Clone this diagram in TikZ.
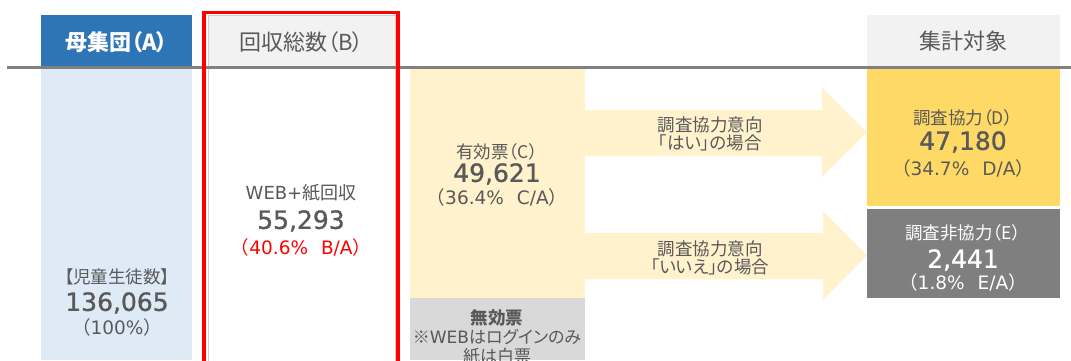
\documentclass[tikz,border=0pt]{standalone}
\usepackage{fontspec}
\setmainfont{DejaVu Sans}
\newfontfamily\jp[RawFeature=+palt]{Noto Sans CJK JP}
\newfontfamily\jpf{Noto Sans CJK JP}
\newfontfamily\num[FakeBold=1]{DejaVu Sans}
\newcommand{\J}[1]{{\jpf #1}}
\definecolor{txt}{HTML}{595959}
\definecolor{hblue}{HTML}{2E75B6}
\definecolor{lblue}{HTML}{DEEBF7}
\definecolor{hgray}{HTML}{F2F2F2}
\definecolor{lyel}{HTML}{FFF2CC}
\definecolor{dyel}{HTML}{FFD966}
\definecolor{dgray}{HTML}{7F7F7F}
\definecolor{mgray}{HTML}{D9D9D9}
\definecolor{lineg}{HTML}{808080}
\definecolor{bordg}{HTML}{D0D0D0}
\begin{document}
\begin{tikzpicture}[x=1pt,y=-1pt,
  box/.style={draw=none,inner sep=0pt,outer sep=0pt,anchor=north west},
  lbl/.style={inner sep=0pt,outer sep=0pt,text=txt,font=\jp\fontsize{17.5}{18}\selectfont},
  big/.style={inner sep=0pt,outer sep=0pt,text=txt,font=\num\fontsize{25}{26}\selectfont},
  pct/.style={inner sep=0pt,outer sep=0pt,text=txt,font=\fontsize{18.5}{19}\selectfont},
  head/.style={inner sep=0pt,outer sep=0pt,text=txt,font=\jp\fontsize{22}{23}\selectfont},
  arr/.style={fill=lyel,draw=none}]
\useasboundingbox (0,0) rectangle (1071,360);
% columns
\node[box,fill=hblue,minimum width=151pt,minimum height=51pt] (hA) at (41,15) {};
\node[box,fill=lblue,minimum width=151pt,minimum height=294pt] (colA) at (41,66) {};
\node[box,fill=hgray,draw=bordg,minimum width=187pt,minimum height=51pt] (hB) at (208,15) {};
\node[box,fill=white,draw=bordg,minimum width=187pt,minimum height=300pt] (colB) at (208,66) {};
\node[box,fill=lyel,minimum width=175pt,minimum height=232pt] (colC) at (410,66) {};
\node[box,fill=mgray,minimum width=175pt,minimum height=62pt] (inv) at (410,298) {};
\node[box,fill=hgray,minimum width=193pt,minimum height=51pt] (hT) at (867,15) {};
\node[box,fill=dyel,minimum width=193pt,minimum height=140pt] (D) at (867,66) {};
\node[box,fill=dgray,minimum width=193pt,minimum height=89pt] (E) at (867,209) {};
% arrows
\fill[arr] (colC.east |- 0,110) -- (822,110) -- (822,88) -- (D.west |- 0,132.5) -- (822,177) -- (822,156) -- (colC.east |- 0,156) -- cycle;
\fill[arr] (colC.east |- 0,233) -- (823,233) -- (823,211) -- (E.west |- 0,255.5) -- (823,300) -- (823,279) -- (colC.east |- 0,279) -- cycle;
% rule line
\draw[lineg,line width=3pt] (7,67) -- (1071,67);
% red frame
\draw[red,line width=3.5pt] (204,365) -- (204,12.5) -- (398,12.5) -- (398,365);
% header texts
\node[head,text=white,font=\jp\bfseries\fontsize{22}{23}\selectfont] (tA) at (116.5,42) {母集団（A）};
\node[head] (tB) at (301.5,42) {回収総数（B）};
\node[head] (tT) at (963.5,41) {集計対象};
% A
\node[lbl] (a1) at (117,277) {【児童生徒数】};
\node[big] (a2) at (117,303) {136,065};
\node[pct] (a3) at (117,327) {\J{（}100\%\J{）}};
% B
\node[lbl,font=\jp\fontsize{18}{19}\selectfont] (b1) at (301,193) {\fontspec{DejaVu Sans}WEB+\jp 紙回収};
\node[big] (b2) at (301,221) {55,293};
\node[pct,text=red] (b3) at (301,247) {\J{（}40.6\%\hspace{0.7em}B/A\J{）}};
% C
\node[lbl] (c1) at (497,152) {有効票（C）};
\node[big] (c2) at (497,174) {49,621};
\node[pct] (c3) at (497,197) {\J{（}36.4\%\hspace{0.7em}C/A\J{）}};
% arrow labels
\node[lbl,align=center] (l1) at (710,134) {調査協力意向\\「はい」の場合};
\node[lbl,align=center] (l2) at (710,257.5) {調査協力意向\\「いいえ」の場合};
% D
\node[lbl] (d1) at (963,118) {調査協力（D）};
\node[big] (d2) at (963,142) {47,180};
\node[pct] (d3) at (963,168) {\J{（}34.7\%\hspace{0.7em}D/A\J{）}};
% E
\node[lbl,text=white] (e1) at (963,233) {調査非協力（E）};
\node[big,text=white] (e2) at (963,260) {2,441};
\node[pct,text=white] (e3) at (963,282) {\J{（}1.8\%\hspace{0.7em}E/A\J{）}};
% invalid
\node[lbl,font=\jp\bfseries\fontsize{17.5}{18}\selectfont] (i1) at (497,318) {無効票};
\node[lbl,font=\jp\fontsize{17}{18}\selectfont] (i2) at (497,337) {※\fontspec{DejaVu Sans}WEB\jp はログインのみ};
\node[lbl,font=\jp\fontsize{17}{18}\selectfont] (i3) at (497,356) {紙は白票};
\end{tikzpicture}
\end{document}
